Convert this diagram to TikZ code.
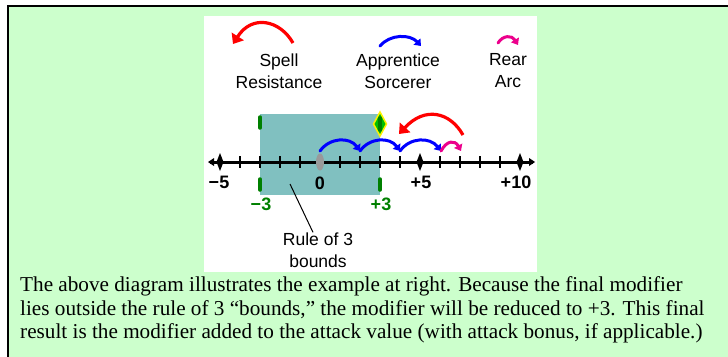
\documentclass[tikz,border=0pt]{standalone}
\usepackage{fontspec}
\setmainfont{Liberation Serif}
\newfontfamily\arialf{Liberation Sans}
\usetikzlibrary{arrows.meta,shapes.geometric}
\definecolor{bggreen}{HTML}{CCFFCC}
\definecolor{tealbox}{HTML}{80C0C0}
\definecolor{dkgreen}{HTML}{008000}
\definecolor{gmark}{HTML}{999999}
\tikzset{
  legendtxt/.style={font=\arialf\fontsize{17.5}{22}\selectfont, align=center, inner sep=0},
  numlbl/.style={font=\arialf\bfseries\fontsize{18}{18}\selectfont, inner sep=0},
  greenlbl/.style={numlbl, text=dkgreen},
  bodytxt/.style={font=\fontsize{21.2}{23.5}\selectfont, anchor=base west, inner sep=0},
  jump/.style={line width=3, line cap=round, -{Triangle[length=6,width=9]}},
  bigjump/.style={line width=3.2, -{Triangle[length=9,width=14]}},
  boundbar/.style={dkgreen, line width=3.5, line cap=round},
}
\begin{document}
\begin{tikzpicture}[x=1pt,y=-1pt]
\useasboundingbox (0,0) rectangle (728,356);
\begin{scope}
\clip (0,0) rectangle (728,356);
\fill[white] (0,0) rectangle (728,356);
\draw[fill=bggreen, line width=2] (8,6) rectangle (740,370);
\end{scope}
\fill[white] (204,16) rectangle (537,272);
\fill[tealbox] (260,114) rectangle (380,195);
% legend
\node[legendtxt] (sr) at (279,71) {Spell\\Resistance};
\node[legendtxt] (as) at (398,71) {Apprentice\\Sorcerer};
\node[legendtxt] (ra) at (508,71) {Rear\\Arc};
\coordinate (r1) at (293,43); \coordinate (r2) at (233,44);
\coordinate (b1) at (380,46); \coordinate (b2) at (421,46);
\coordinate (m1) at (498,43); \coordinate (m2) at (518,45);
\draw[bigjump, red] (r1) .. controls (280,20) and (252,14) .. (r2);
\draw[jump, blue] (b1) .. controls (390,34) and (410,34) .. (b2);
\draw[jump, magenta] (m1) .. controls (503,35) and (512,35) .. (m2);
% axis
\coordinate (al) at (210,162); \coordinate (ar) at (533,162);
\draw[line width=3] (al) -- (ar);
\fill (al) ++(-2,0) -- ++(6,-4) -- ++(0,8) -- cycle;
\fill (ar) ++(2,0) -- ++(-6,-4) -- ++(0,8) -- cycle;
\foreach \i in {-5,...,10} {\draw[line width=1.6] (320+20*\i,156) -- (320+20*\i,168);}
\foreach \i in {-5,5,10} {\fill (320+20*\i,153) -- (323.5+20*\i,162) -- (320+20*\i,171) -- (316.5+20*\i,162) -- cycle;}
\fill[gmark] (320,162) ellipse (4 and 8.5);
% bounds
\draw[boundbar] (260,117) -- (260,128);
\draw[boundbar] (260,179) -- (260,190);
\draw[boundbar] (380,179) -- (380,190);
\draw[yellow, fill=green!75!black, line width=1.5] (380,112) -- (386.5,124) -- (380,136) -- (373.5,124) -- cycle;
\draw[boundbar] (380,118) -- (380,130);
% labels
\node[numlbl] (n1) at (219,182) {−5};
\node[numlbl] (n2) at (320,183) {0};
\node[numlbl] (n3) at (421,182) {+5};
\node[numlbl] (n4) at (516,182) {+10};
\node[greenlbl] (g1) at (261,204) {−3};
\node[greenlbl] (g2) at (381,204) {+3};
% jumps
\coordinate (p0) at (320,151); \coordinate (p2) at (360,151);
\coordinate (p4) at (400,151); \coordinate (p6) at (441,151);
\coordinate (p7) at (461,151);
\draw[jump, blue] (p0) .. controls (330,137) and (350,137) .. (p2);
\draw[jump, blue] (p2) .. controls (370,137) and (390,137) .. (p4);
\draw[jump, blue] (p4) .. controls (410,137) and (430,137) .. (p6);
\draw[jump, magenta] (p6) .. controls (447,140) and (455,140) .. (p7);
\coordinate (q7) at (463,135); \coordinate (q4) at (399,134);
\draw[bigjump, red] (q7) .. controls (450,112) and (425,106) .. (q4);
% rule of 3
\node[legendtxt] (ro) at (318,250) {Rule of 3\\bounds};
\coordinate (rp) at (290,184);
\draw[line width=1] (rp) -- (ro.north -| 313,0);
% body text
\node[bodytxt] (t1) at (20,291) {The above diagram illustrates the example at right. Because the final modifier};
\node[bodytxt] (t2) at (20,315) {lies outside the rule of 3 “bounds,” the modifier will be reduced to +3. This final};
\node[bodytxt] (t3) at (20,338) {result is the modifier added to the attack value (with attack bonus, if applicable.)};
\end{tikzpicture}
\end{document}
